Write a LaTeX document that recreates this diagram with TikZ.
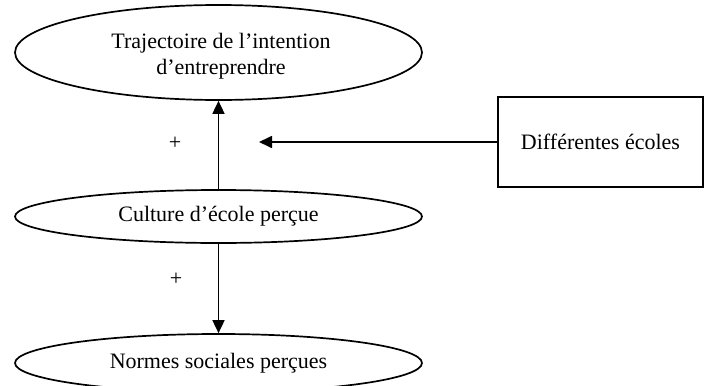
\documentclass[tikz,border=0pt]{standalone}
\usepackage{fontspec}
\setmainfont{Liberation Serif}
\usetikzlibrary{shapes.geometric,arrows.meta}
\begin{document}
\begin{tikzpicture}[x=1pt,y=-1pt,
  every node/.style={font=\fontsize{22}{25}\selectfont},
  ell/.style={draw,ellipse,line width=1.7pt,inner sep=0pt,align=center},
  boxst/.style={draw,rectangle,line width=1.7pt,inner sep=0pt},
  arr/.style={line width=1.7pt,-{Triangle[length=13pt,width=12pt]}}]
\useasboundingbox (0,0) rectangle (705,386);
\node[ell,minimum width=407pt,minimum height=95pt] (traj) at (218.5,52.5) {};
\node[align=center,font=\fontsize{22}{26}\selectfont] (trajtxt) at (221,56) {Trajectoire de l’intention\\d’entreprendre};
\node[ell,minimum width=407pt,minimum height=53pt] (cult) at (218.5,216.5) {Culture d’école perçue};
\node[ell,minimum width=407pt,minimum height=58pt] (norm) at (218.5,363) {Normes sociales perçues};
\node[boxst,minimum width=205pt,minimum height=90pt] (ecol) at (600.5,142) {\raisebox{-4pt}{Différentes écoles}};
\coordinate (tip) at (259,142);
\node (p1) at (175,143) {+};
\node (p2) at (176,279) {+};
\draw[arr] (cult.north) -- (traj.south);
\draw[arr] (cult.south) -- (norm.north);
\draw[arr] (ecol.west) -- (tip);
\end{tikzpicture}
\end{document}
